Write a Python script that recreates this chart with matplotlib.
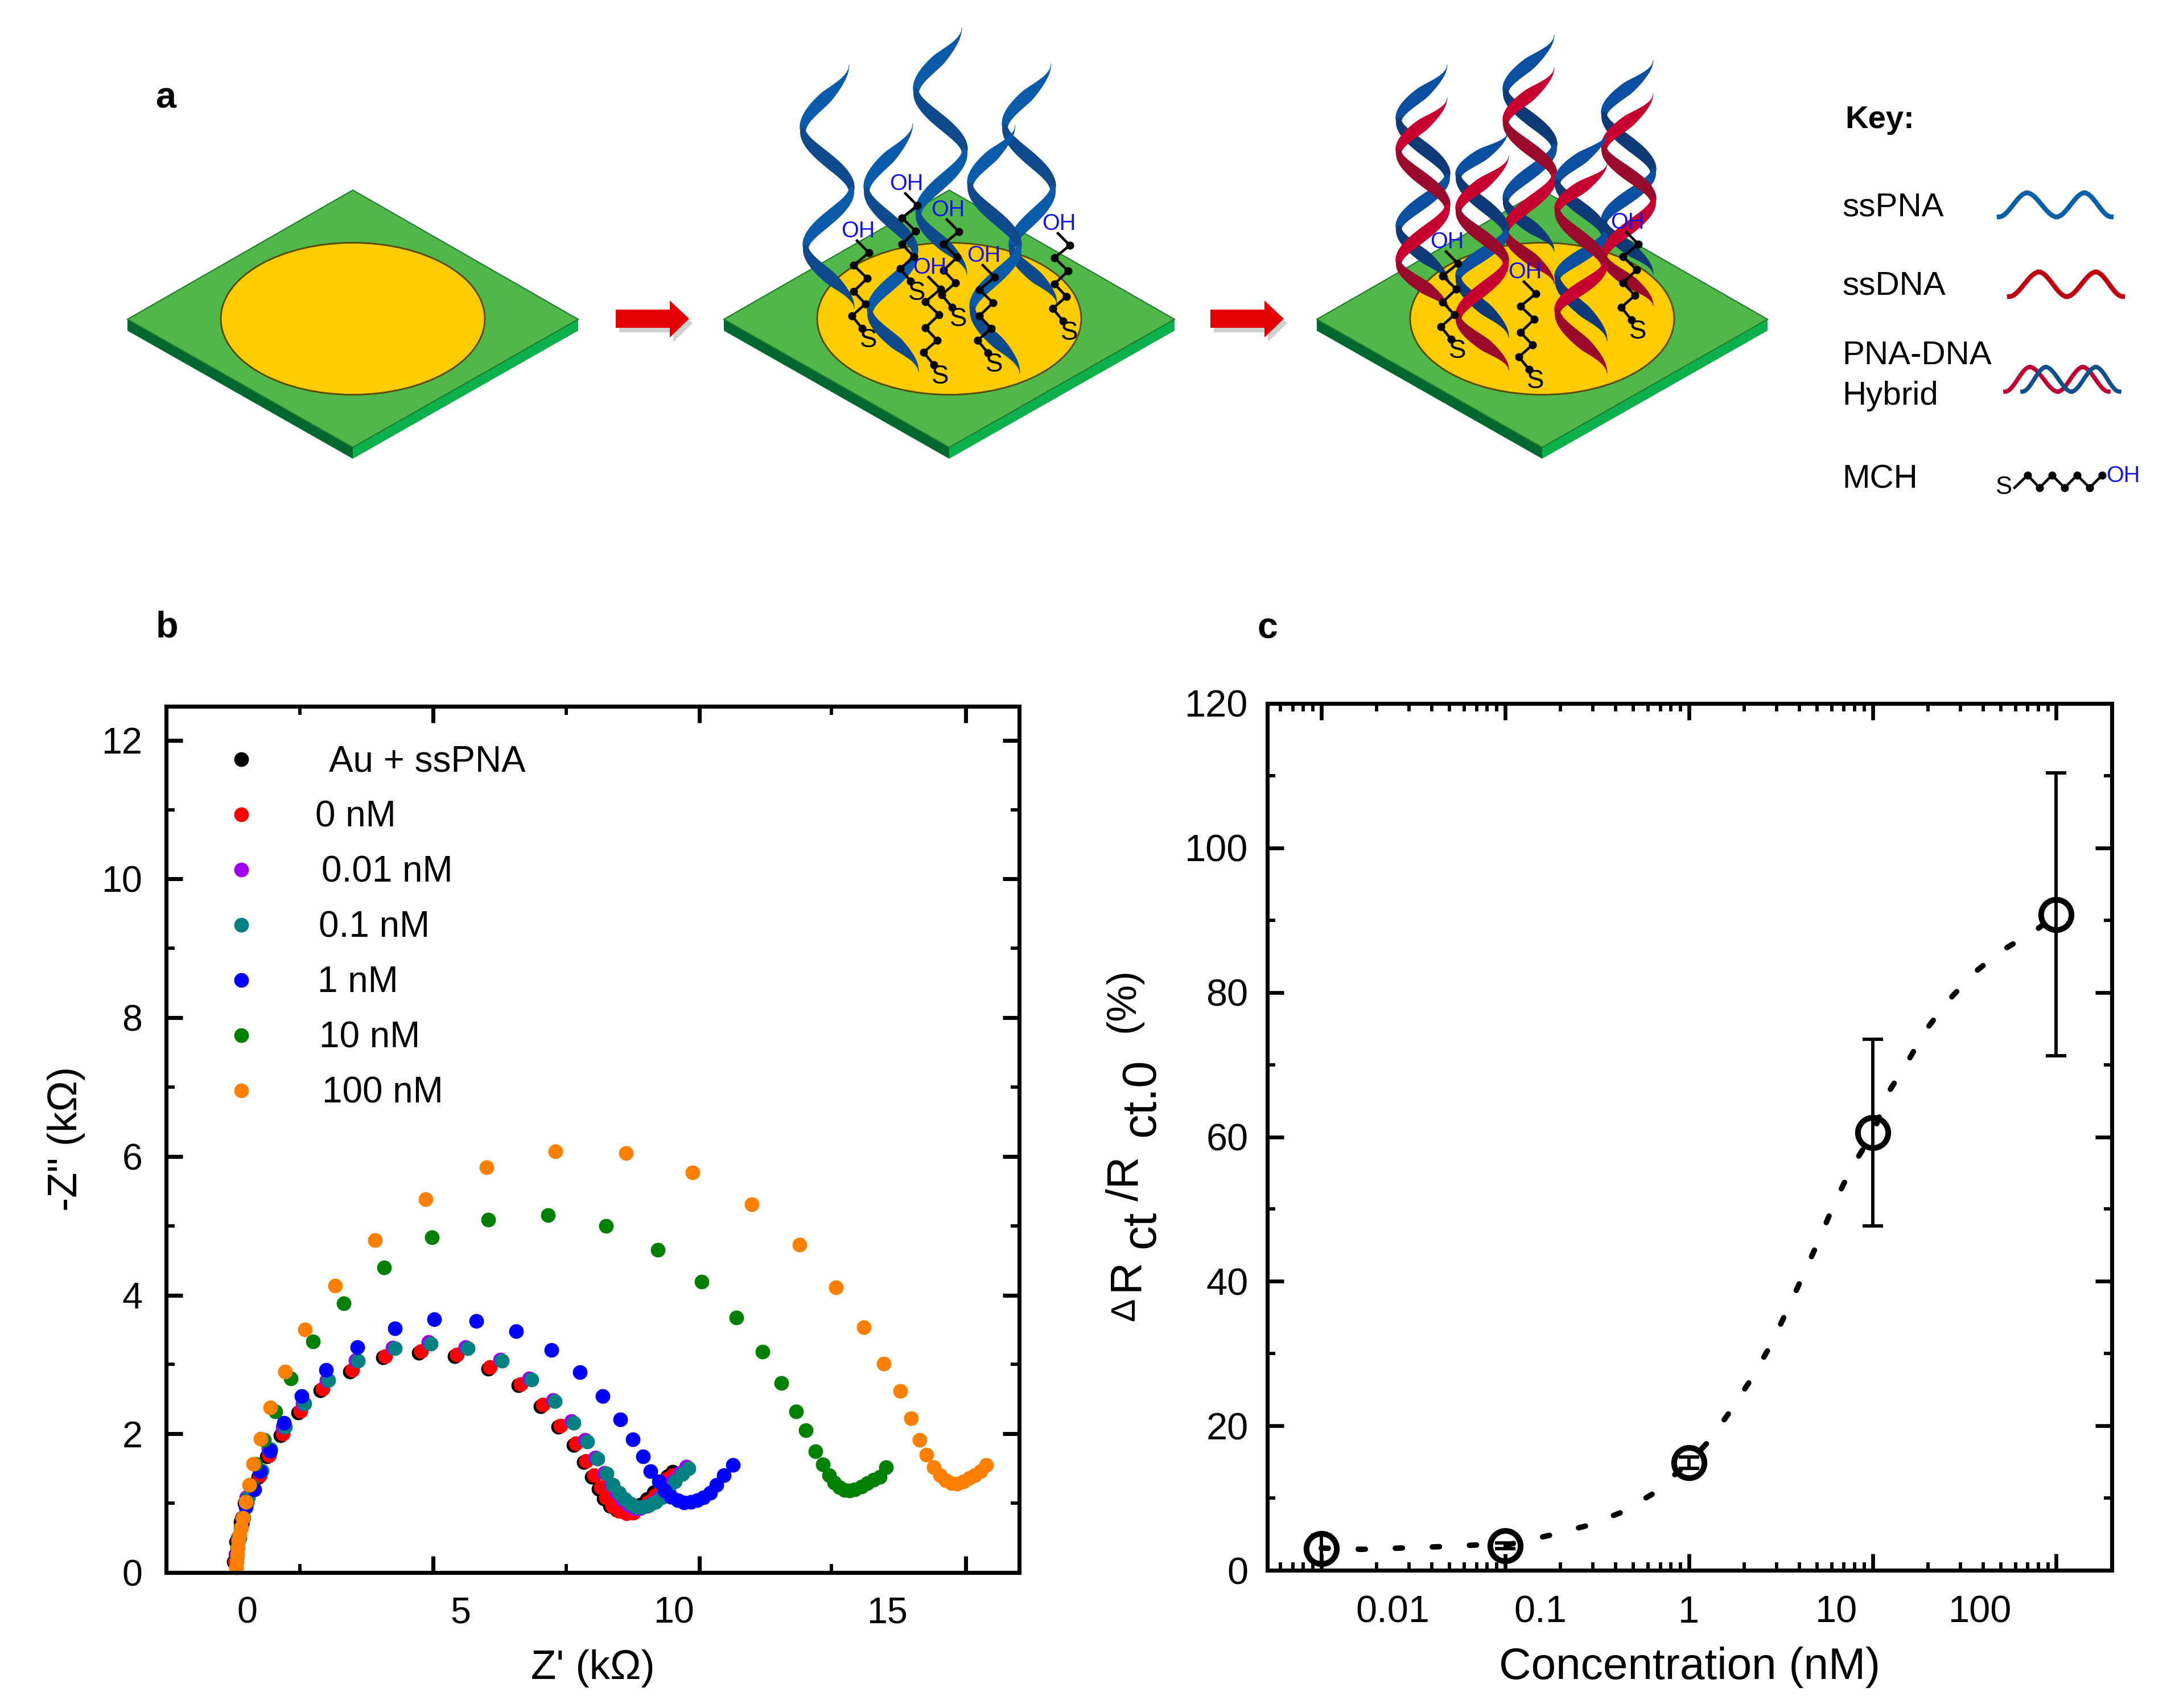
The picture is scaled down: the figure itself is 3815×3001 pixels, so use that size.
import numpy as np
import matplotlib
matplotlib.use('Agg')
import matplotlib.pyplot as plt
from matplotlib.collections import LineCollection
from matplotlib.patches import Polygon, Ellipse
from matplotlib.ticker import LogLocator, NullFormatter

plt.rcParams['font.family'] = ['Liberation Sans', 'DejaVu Sans']

W, H, DPI = 3815, 3001, 300

# panel b, impedance data (kOhm)
black_x = [-.31,-.25,-.15,-.05,.09,.26,.47,.79,1.20,1.72,2.41,3.19,4.03,4.87,5.65,6.36,6.88,7.30,7.66,7.90,8.08,8.24,8.36,8.51,8.67,8.85,9.00,9.22,9.38,9.54,9.70,9.86,9.98]
black_y = [.16,.44,.73,1.00,1.21,1.38,1.67,1.98,2.31,2.63,2.90,3.10,3.17,3.12,2.94,2.70,2.40,2.10,1.84,1.59,1.38,1.21,1.07,.96,.90,.87,.88,.98,1.06,1.16,1.27,1.39,1.45]
red_x = [-.28,-.21,-.11,0,.14,.31,.52,.84,1.25,1.77,2.46,3.24,4.08,4.92,5.70,6.41,6.93,7.35,7.71,7.95,8.13,8.29,8.41,8.56,8.72,8.90,9.05,9.25,9.40,9.56,9.71,9.86,9.97]
red_y = [.16,.46,.75,1.02,1.23,1.40,1.69,2.00,2.33,2.65,2.92,3.12,3.19,3.14,2.96,2.72,2.42,2.12,1.86,1.61,1.40,1.23,1.08,.96,.89,.85,.86,.94,1.02,1.11,1.23,1.35,1.40]
purple_x = [-.27,-.21,-.12,-.02,.10,.29,.50,.84,1.30,1.86,2.55,3.41,4.26,5.12,5.93,6.62,7.17,7.60,7.92,8.16,8.38,8.53,8.67,8.80,8.94,9.08,9.22,9.37,9.52,9.67,9.83,9.98,10.15,10.30]
purple_y = [.26,.50,.79,1.08,1.23,1.47,1.78,2.10,2.44,2.77,3.06,3.24,3.32,3.25,3.07,2.80,2.49,2.18,1.91,1.66,1.44,1.27,1.15,1.05,.98,.93,.93,.96,1.01,1.08,1.19,1.32,1.44,1.53]
teal_x = [-.24,-.18,-.08,.03,.15,.34,.55,.89,1.35,1.91,2.60,3.46,4.31,5.17,5.98,6.67,7.22,7.65,7.97,8.21,8.43,8.58,8.72,8.85,8.99,9.13,9.27,9.42,9.57,9.72,9.88,10.03,10.20,10.35]
teal_y = [.26,.50,.79,1.08,1.23,1.47,1.78,2.10,2.44,2.77,3.05,3.23,3.30,3.23,3.05,2.78,2.47,2.16,1.89,1.64,1.43,1.26,1.15,1.06,.99,.94,.94,.97,1.02,1.08,1.18,1.31,1.42,1.50]
blue_x = [-.24,-.20,-.12,-.03,.17,.31,.55,.86,1.28,1.85,2.58,3.46,4.39,5.38,6.31,7.13,7.80,8.33,8.75,9.04,9.28,9.46,9.65,9.79,9.94,10.09,10.24,10.40,10.55,10.70,10.86,11.01,11.18,11.39]
blue_y = [.26,.46,.70,.94,1.20,1.46,1.76,2.16,2.54,2.92,3.25,3.52,3.65,3.63,3.48,3.21,2.89,2.54,2.21,1.92,1.67,1.46,1.31,1.18,1.09,1.04,1.01,1.02,1.04,1.08,1.15,1.26,1.40,1.55]
green_x = [-.26,-.24,-.23,-.20,-.15,-.11,-.03,.06,.20,.40,.66,1.02,1.54,2.26,3.21,4.34,5.66,7.05,8.41,9.63,10.66,11.47,12.08,12.52,12.87,13.10,13.33,13.50,13.65,13.76,13.88,14.01,14.13,14.25,14.40,14.54,14.69,14.83,14.98]
green_y = [.07,.21,.36,.50,.65,.79,1.02,1.26,1.57,1.91,2.32,2.80,3.33,3.88,4.40,4.83,5.09,5.15,5.00,4.65,4.19,3.68,3.18,2.73,2.32,2.05,1.75,1.56,1.40,1.30,1.23,1.19,1.18,1.20,1.24,1.29,1.34,1.38,1.52]
orange_x = [-.26,-.24,-.23,-.21,-.20,-.17,-.14,-.09,-.03,.05,.15,.32,.55,.89,1.36,2.06,3.00,4.19,5.61,7.23,8.88,10.44,11.83,12.95,13.81,14.46,14.92,15.31,15.57,15.76,15.93,16.10,16.24,16.38,16.51,16.65,16.79,16.93,17.06,17.19,17.32]
orange_y = [.07,.16,.26,.36,.46,.55,.65,.79,1.02,1.26,1.57,1.93,2.38,2.90,3.50,4.14,4.79,5.38,5.84,6.07,6.05,5.77,5.31,4.73,4.11,3.54,3.01,2.62,2.22,1.91,1.70,1.52,1.40,1.33,1.29,1.28,1.31,1.36,1.40,1.46,1.55]

series_x = [black_x, red_x, purple_x, teal_x, blue_x, green_x, orange_x]
series_y = [black_y, red_y, purple_y, teal_y, blue_y, green_y, orange_y]
series_names = ['Au + ssPNA', '0 nM', '0.01 nM', '0.1 nM', '1 nM', '10 nM', '100 nM']
series_colors = ['black', '#ff0000', '#a000f0', '#008080', '#0000ff', '#008000', '#ff8000']
legend_text_x = [.191, .1745, .182, .1787, .1772, .1792, .1825]

# the ticks of this panel do not sit under their labels
b_tick_major = [4.36, 10.6, 16.84]
b_tick_minor = [1.24, 7.48, 13.7]
b_label_pos = [0, 5, 10, 15]

# panel c
conc = [0.01, 0.1, 1, 10, 100]
resp = [3.0, 3.4, 14.9, 60.6, 90.8]
resp_err = [1.9, 0.4, 0.8, 12.9, 19.6]
fit_x = [0.01, 0.0166, 0.0268, 0.0433, 0.070, 0.1, 0.175, 0.282, 0.429, 0.630, 1, 1.30, 1.69, 2.19, 2.77, 3.45, 4.22, 5.15, 6.24, 7.76, 10.1, 12.3, 15.2, 19.4, 25.9, 36.4, 51.5, 78.3, 100]
fit_y = [3.07, 2.9, 3.07, 3.26, 3.5, 3.44, 4.84, 6.2, 8.0, 10.5, 14.9, 18, 22.1, 26.5, 31, 36.1, 41, 45.9, 51, 55.9, 60.6, 66.3, 70, 74.7, 78.9, 82.9, 85.9, 88.7, 90.8]
c_labels = ['0.01', '0.1', '1', '10', '100']
c_label_pos = [10**-1.611, 10**-0.807, 1, 10**0.803, 10**1.584]

# panel a, drawn in figure pixels
plate_cx = [620, 1668, 2710]
arrow_x0 = [1082, 2127]
helix2 = [([1492, 1411, 1496, 1416, 1501], [114, 228, 333, 434, 542]),
          ([1604, 1523, 1608, 1529, 1614], [217, 333, 444, 547, 653]),
          ([1690, 1610, 1695, 1614, 1699], [49, 160, 266, 374, 482]),
          ([1847, 1766, 1850, 1778, 1857], [112, 222, 331, 434, 534]),
          ([1784, 1705, 1790, 1709, 1792], [220, 325, 434, 542, 656])]
helix3_blue = [([2543, 2458, 2543, 2458, 2546], [114, 211, 309, 401, 499]),
               ([2731, 2646, 2731, 2646, 2731], [62, 160, 257, 352, 442]),
               ([2905, 2819, 2905, 2819, 2905], [106, 201, 301, 390, 482]),
               ([2649, 2563, 2646, 2563, 2651], [233, 309, 407, 488, 593]),
               ([2824, 2737, 2819, 2737, 2824], [233, 320, 412, 488, 599])]
helix3_red = [([2543, 2458, 2543, 2458, 2546], [172, 266, 363, 461, 547]),
              ([2731, 2646, 2731, 2646, 2731], [119, 214, 309, 407, 499]),
              ([2905, 2819, 2905, 2819, 2905], [165, 260, 352, 450, 537]),
              ([2651, 2563, 2646, 2563, 2651], [274, 369, 461, 558, 650]),
              ([2824, 2737, 2819, 2737, 2824], [287, 369, 466, 547, 656])]
mch2_oh = [(1508, 408), (1593, 325), (1666, 371), (1634, 472), (1729, 451), (1861, 395)]
mch3_oh = [(2543, 427), (2680, 480), (2860, 393)]
chain_dx = [-2, 19, -8, 16, -8, 13, -11, 7]
chain_dy = [15, 36, 58, 81, 104, 126, 147, 169]


def ribbon(ax, xs, ys, c_a, c_b, lw, z):
    for i in range(len(xs) - 1):
        t = np.linspace(0, 1, 30)
        e = 3 * t**2 - 2 * t**3
        x = xs[i] + (xs[i + 1] - xs[i]) * e
        y = ys[i] + (ys[i + 1] - ys[i]) * t
        w = lw * (0.4 + 0.6 * np.sin(np.pi * t))
        if i == 0:
            w = w * np.clip(t * 2, 0.1, 1)
        if i == len(xs) - 2:
            w = w * np.clip((1 - t) * 2, 0.1, 1)
        pts = np.column_stack([x, y])
        segs = np.stack([pts[:-1], pts[1:]], axis=1)
        col = c_a if xs[i + 1] < xs[i] else c_b
        ax.add_collection(LineCollection(segs, linewidths=w[:-1], colors=col, capstyle='round', zorder=z))


def wave(ax, xs, ys, color, lw):
    for i in range(len(xs) - 1):
        t = np.linspace(0, 1, 25)
        e = 3 * t**2 - 2 * t**3
        ax.plot(xs[i] + (xs[i + 1] - xs[i]) * t, ys[i] + (ys[i + 1] - ys[i]) * e, color=color, lw=lw, zorder=5)


def chain(ax, ox, oy):
    ax.plot([ox + d for d in chain_dx], [oy + d for d in chain_dy], color='black', lw=1.1,
            marker='o', ms=2.4, markevery=(1, 1), zorder=8)
    ax.text(ox, oy - 2, 'OH', color='#1414f0', fontsize=9.5, ha='center', va='center', zorder=9)
    ax.text(ox + 18, oy + 190, 'S', color='black', fontsize=11, ha='center', va='center', zorder=9)


def axes_px(left, top, right, bottom):
    return fig.add_axes([left / W, 1 - bottom / H, (right - left) / W, (bottom - top) / H])


fig = plt.figure(figsize=(W / DPI, H / DPI), dpi=DPI)
ov = fig.add_axes([0, 0, 1, 1])
ov.set_xlim(0, W)
ov.set_ylim(H, 0)
ov.axis('off')

for cx in plate_cx:
    ov.add_patch(Polygon([(cx - 396, 561), (cx, 786), (cx, 806), (cx - 396, 581)], fc='#00682f', ec='none', zorder=1))
    ov.add_patch(Polygon([(cx + 396, 561), (cx, 786), (cx, 806), (cx + 396, 581)], fc='#0db14b', ec='none', zorder=1))
    ov.add_patch(Polygon([(cx - 396, 561), (cx, 334), (cx + 396, 561), (cx, 786)], fc='#50b848', ec='#1f7a32', lw=0.5, zorder=2))
    ov.add_patch(Ellipse((cx, 560), 464, 267, fc='#ffcc00', ec='#5a4a00', lw=0.7, zorder=3))

for x0 in arrow_x0:
    arrow = [(x0, 544), (x0 + 95, 544), (x0 + 95, 528), (x0 + 129, 560), (x0 + 95, 593), (x0 + 95, 576), (x0, 576)]
    ov.add_patch(Polygon([(a + 6, b + 8) for a, b in arrow], fc='#999999', ec='none', alpha=0.45, zorder=2))
    ov.add_patch(Polygon(arrow, fc='#e30000', ec='none', zorder=3))

for xs, ys in helix2:
    ribbon(ov, xs, ys, '#0a5cab', '#0f4a8c', 5.5, 5)
for i in range(len(helix3_blue)):
    ribbon(ov, helix3_blue[i][0], helix3_blue[i][1], '#0a4fa0', '#0f3a78', 5.5, 5 + i * 0.1)
    ribbon(ov, helix3_red[i][0], helix3_red[i][1], '#c8002f', '#9a0a2a', 5.5, 5.05 + i * 0.1)
for ox, oy in mch2_oh + mch3_oh:
    chain(ov, ox, oy)

ov.text(291, 173, 'a', fontsize=15.5, fontweight='bold', ha='center', va='center')
ov.text(293, 1103, 'b', fontsize=15.5, fontweight='bold', ha='center', va='center')
ov.text(2227, 1105, 'c', fontsize=15.5, fontweight='bold', ha='center', va='center')

# key
ov.text(3242, 211, 'Key:', fontsize=13.5, fontweight='bold', ha='left', va='center')
ov.text(3237, 364, 'ssPNA', fontsize=14, ha='left', va='center')
ov.text(3237, 503, 'ssDNA', fontsize=14, ha='left', va='center')
ov.text(3237, 625, 'PNA-DNA', fontsize=14, ha='left', va='center')
ov.text(3237, 696, 'Hybrid', fontsize=14, ha='left', va='center')
ov.text(3237, 842, 'MCH', fontsize=14, ha='left', va='center')
wave(ov, [3513, 3562, 3614, 3663, 3710], [381, 339, 381, 339, 381], '#0a60a8', 2.0)
wave(ov, [3531, 3583, 3632, 3683, 3730], [521, 478, 521, 478, 521], '#c00010', 2.0)
wave(ov, [3524, 3567, 3616, 3660, 3705], [688, 645, 688, 645, 688], '#c00030', 1.8)
wave(ov, [3554, 3595, 3640, 3683, 3724], [688, 645, 688, 645, 688], '#10508f', 1.8)
ov.plot([3540, 3563, 3584, 3606, 3628, 3650, 3672, 3694], [857, 835, 857, 835, 857, 835, 857, 835],
        color='black', lw=1.1, marker='o', ms=2.4, markevery=(1, 1))
ov.text(3521, 856, 'S', fontsize=10.5, ha='center', va='center')
ov.text(3731, 836, 'OH', color='#1414f0', fontsize=9.5, ha='center', va='center')

# panel c y label pieces, the subscripts are only shifted
for txt, bx, cy, fs in [('\u0394', 1993, 2301, 14.5), ('R', 1999, 2240, 18.8), ('ct', 2028, 2160, 20.5),
                        ('/R', 1999, 2071, 18.8), ('ct.0', 2028, 1928, 20.5), ('(%)', 1992, 1757, 17.5)]:
    ov.text(bx, cy, txt, fontsize=fs, rotation=90, rotation_mode='anchor', ha='center', va='baseline')

# panel b
ax = axes_px(292, 1241, 1791, 2763)
for i in range(len(series_x)):
    ax.plot(series_x[i], series_y[i], 'o', color=series_colors[i], ms=6.2, mew=0, clip_on=False)
ax.set_xlim(-1.896, 18.1)
ax.set_ylim(0, 12.49)
ax.set_xticks(b_tick_major)
ax.set_xticks(b_tick_minor, minor=True)
ax.set_xticklabels([])
ax.set_yticks([0, 2, 4, 6, 8, 10, 12])
ax.set_yticks([1, 3, 5, 7, 9, 11], minor=True)
ax.tick_params(which='major', direction='in', length=7, width=1.7, top=True, right=True, labelsize=15.5, pad=10)
ax.tick_params(which='minor', direction='in', length=3.5, width=1.4, top=True, right=True)
sec = ax.secondary_xaxis('bottom')
sec.set_xticks(b_label_pos)
sec.tick_params(length=0, labelsize=15.5, pad=10)
sec.spines['bottom'].set_visible(False)
for s in ax.spines.values():
    s.set_linewidth(1.7)
ax.set_xlabel("Z' (k\u03a9)", fontsize=17.5)
ax.xaxis.set_label_coords(0.5, -0.089)
ax.set_ylabel('-Z" (k\u03a9)', fontsize=17.5)
ax.yaxis.set_label_coords(-0.095, 0.501)
for i in range(len(series_names)):
    ax.plot([.088], [.939 - i * .0637], 'o', color=series_colors[i], ms=6.2, mew=0, transform=ax.transAxes)
    ax.text(legend_text_x[i], .936 - i * .0637, series_names[i], fontsize=15.3, va='center', ha='left', transform=ax.transAxes)

# panel c
ax2 = axes_px(2227, 1236, 3711, 2759)
ax2.set_xscale('log')
ax2.plot(fit_x, fit_y, color='black', lw=2.3, linestyle=(0, (1.3, 5.5)), dash_capstyle='round')
ax2.errorbar(conc, resp, yerr=resp_err, fmt='none', ecolor='black', elinewidth=1.4, capsize=4.4, capthick=1.4)
ax2.plot(conc, resp, 'o', mfc='none', mec='black', ms=12.8, mew=2.4, clip_on=False, zorder=5)
ax2.set_xlim(10**-2.293, 10**2.302)
ax2.set_ylim(0, 120)
ax2.xaxis.set_major_locator(LogLocator(base=10, numticks=12))
ax2.xaxis.set_minor_locator(LogLocator(base=10, subs=np.arange(2, 10), numticks=12))
ax2.xaxis.set_major_formatter(NullFormatter())
ax2.xaxis.set_minor_formatter(NullFormatter())
ax2.set_yticks([0, 20, 40, 60, 80, 100, 120])
ax2.set_yticks([10, 30, 50, 70, 90, 110], minor=True)
ax2.tick_params(which='major', direction='in', length=7, width=1.6, top=True, right=True, labelsize=16, pad=8)
ax2.tick_params(which='minor', direction='in', length=3.3, width=1.4, top=True, right=True)
sec2 = ax2.secondary_xaxis('bottom')
sec2.set_xticks(c_label_pos)
sec2.set_xticklabels(c_labels)
sec2.xaxis.set_minor_locator(plt.NullLocator())
sec2.tick_params(length=0, labelsize=16, pad=10.5)
sec2.spines['bottom'].set_visible(False)
for s in ax2.spines.values():
    s.set_linewidth(1.7)
ax2.set_xlabel('Concentration (nM)', fontsize=18.8)
ax2.xaxis.set_label_coords(0.5, -0.088)

fig.savefig('out.png', dpi=DPI)
